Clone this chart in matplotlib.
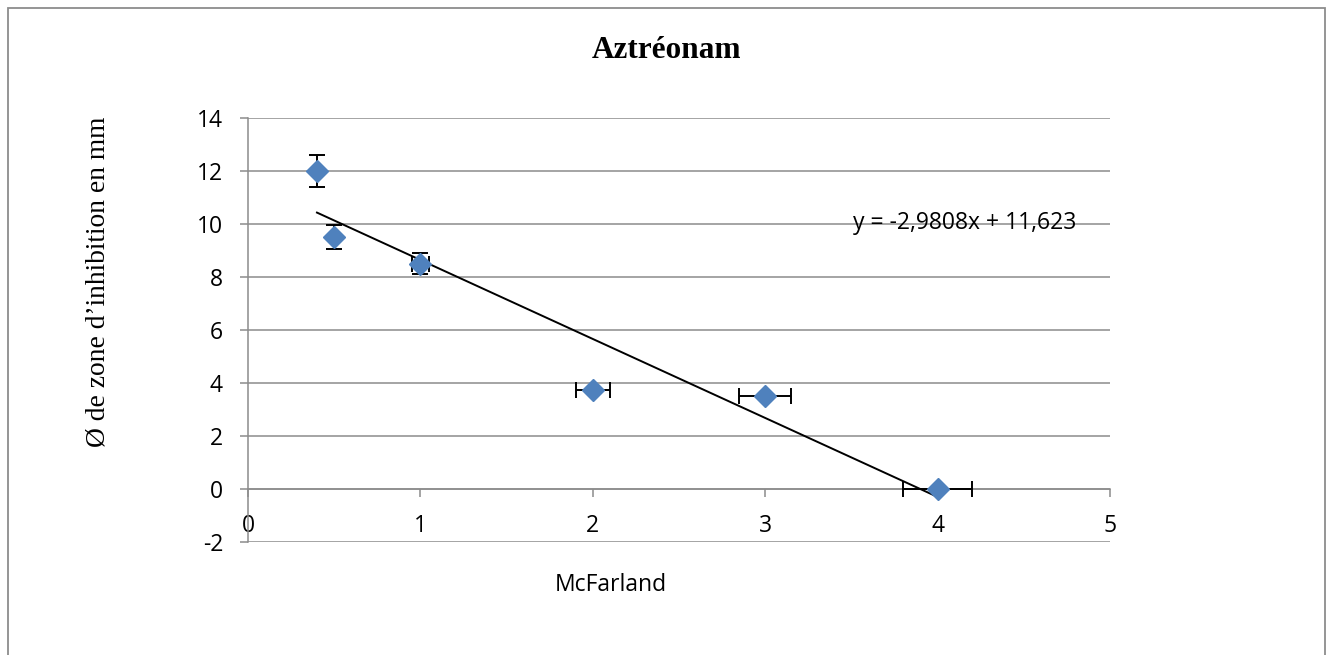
import numpy as np
import matplotlib
matplotlib.use("Agg")
import matplotlib.pyplot as plt
from matplotlib.patches import Rectangle

# McFarland turbidity standard vs. inhibition zone diameter (Aztreonam)
mcfarland = [0.4, 0.5, 1.0, 2.0, 3.0, 4.0]
diameter_mm = [12.0, 9.5, 8.5, 3.75, 3.5, 0.0]
err_y = [0.6, 0.45, 0.4, 0.0, 0.0, 0.0]
err_x = [0.0, 0.0, 0.05, 0.1, 0.15, 0.2]

x_ticks = [0, 1, 2, 3, 4, 5]
y_ticks = [-2, 0, 2, 4, 6, 8, 10, 12, 14]

title = "Aztréonam"
x_label = "McFarland"
y_label = "Ø de zone d’inhibition en mm"

sans = ["Open Sans", "DejaVu Sans"]
serif = ["Liberation Serif", "DejaVu Serif"]
grid_col = "#8c8c8c"
marker_col = "#4f81bd"
fs = 16.5

W, H = 1332, 655
fig = plt.figure(figsize=(W / 100, H / 100), dpi=100)

# outer chart frame
fig.patches.append(Rectangle((8 / W, -0.05), (1325 - 8) / W, 1 - 8 / H + 0.05,
                             transform=fig.transFigure, fill=False,
                             edgecolor=grid_col, linewidth=1.3))

ax = fig.add_axes([248 / W, 1 - 542 / H, (1110 - 248) / W, (542 - 118) / H])
ax.set_xlim(0, 5)
ax.set_ylim(-2, 14)

for s in ["top", "right"]:
    ax.spines[s].set_visible(False)
ax.spines["bottom"].set_position(("data", 0))
for s in ["left", "bottom"]:
    ax.spines[s].set_color(grid_col)
    ax.spines[s].set_linewidth(1.1)

ax.set_yticks(y_ticks)
ax.set_xticks(x_ticks)
ax.yaxis.grid(True, color=grid_col, linewidth=1.1)
ax.set_axisbelow(True)
ax.tick_params(axis="both", color=grid_col, width=1.1, length=6, direction="out",
               labelsize=fs)
ax.tick_params(axis="y", pad=12)
ax.tick_params(axis="x", pad=12)
ax.set_yticklabels([str(v) for v in y_ticks])
ax.set_xticklabels([str(v) for v in x_ticks])
for lab in ax.get_xticklabels() + ax.get_yticklabels():
    lab.set_fontfamily(sans)

# linear trend line
slope, intercept = np.polyfit(mcfarland, diameter_mm, 1)
xs = np.array([min(mcfarland), max(mcfarland)])
ax.plot(xs, slope * xs + intercept, color="black", linewidth=1.4, zorder=3)

ax.errorbar(mcfarland, diameter_mm, yerr=err_y, xerr=err_x, fmt="none",
            ecolor="black", elinewidth=1.4, capsize=6, capthick=1.4, zorder=4)
ax.plot(mcfarland, diameter_mm, linestyle="none", marker="D", markersize=11.5,
        color=marker_col, markeredgecolor=marker_col, zorder=5)

eq = "y = {:.4f}x + {:.3f}".format(slope, intercept).replace(".", ",")
ax.text(3.51, 10.05, eq, fontsize=fs, family=sans, ha="left", va="center")

fig.text(667 / W, 1 - 50 / H, title, fontsize=22.5, family=serif,
         fontweight="bold", ha="center", va="center")
fig.text(611 / W, 1 - 585 / H, x_label, fontsize=fs, family=sans,
         ha="center", va="center")
fig.text(98 / W, 1 - 282 / H, y_label, fontsize=19.8, family=serif,
         rotation=90, ha="center", va="center")

fig.savefig("out.png", dpi=100)
